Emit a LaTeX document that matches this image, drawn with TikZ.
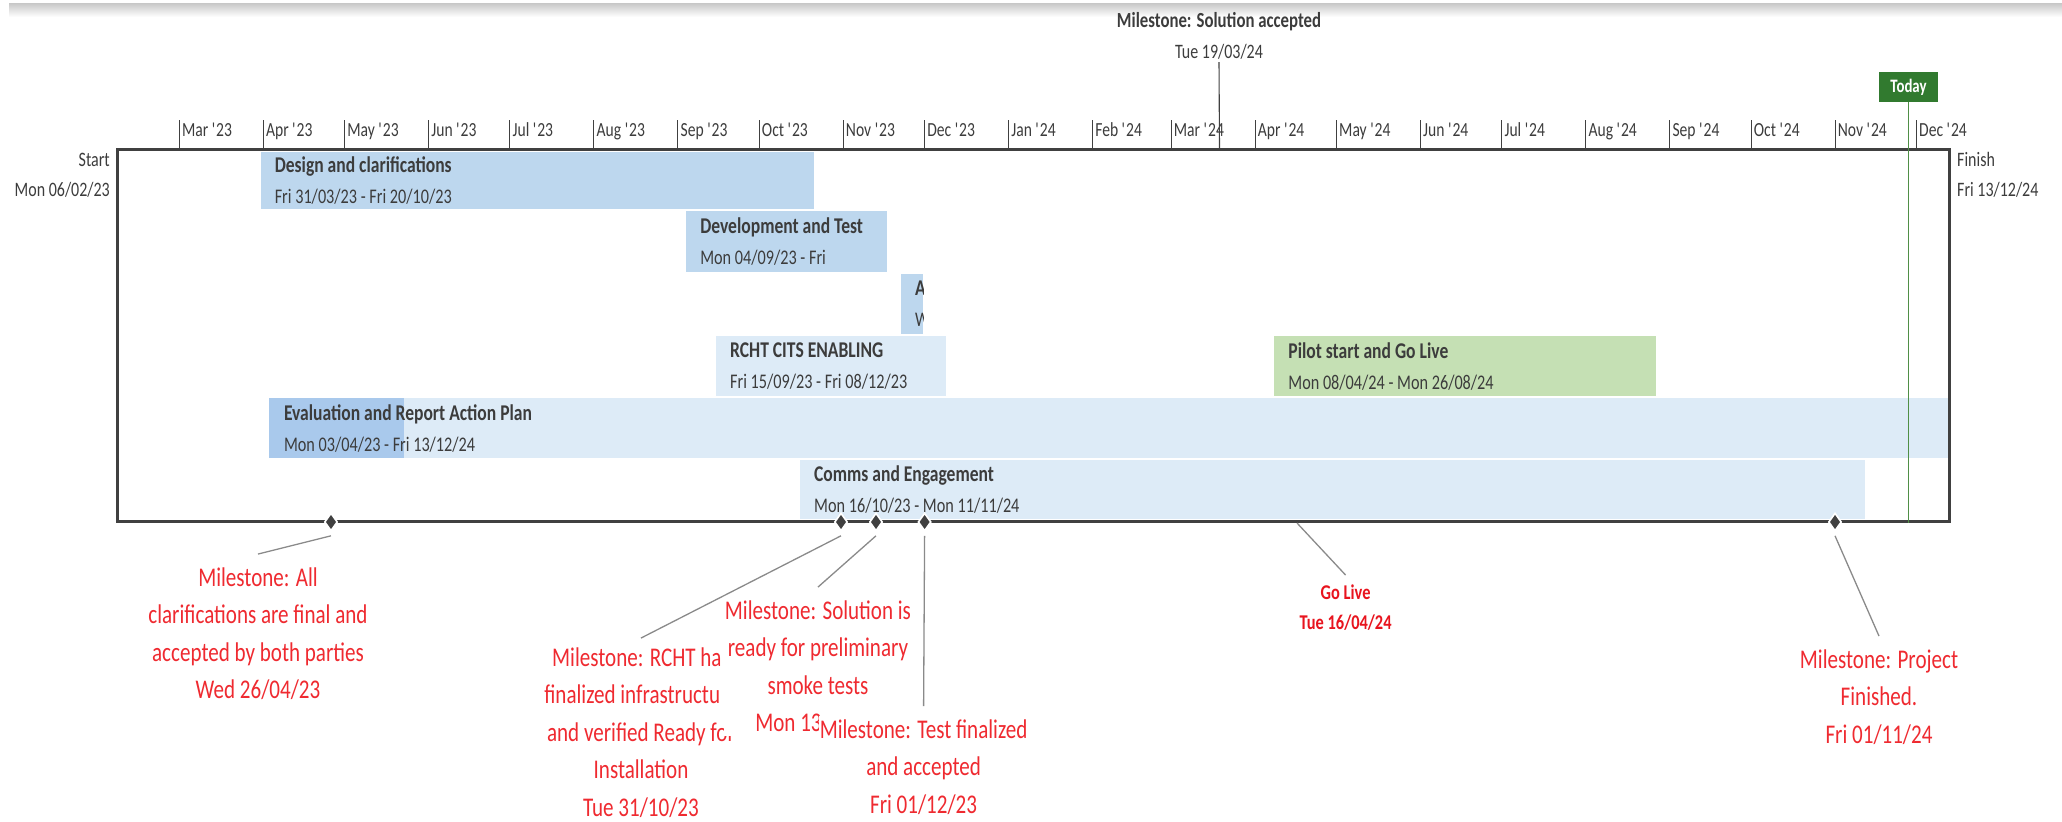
\documentclass[tikz,border=0pt]{standalone}
\usepackage{fontspec}
\setmainfont[FakeStretch=0.78]{Carlito}
\usetikzlibrary{positioning,shapes.geometric}

\definecolor{frame-gray}{HTML}{404040}
\definecolor{text-gray}{HTML}{3C3C3C}
\definecolor{bar-blue}{HTML}{BDD7EE}
\definecolor{bar-light}{HTML}{DDEBF7}
\definecolor{bar-progress}{HTML}{A9C9EC}
\definecolor{bar-green}{HTML}{C5E0B4}
\definecolor{today-green}{HTML}{317A2F}
\definecolor{today-line}{HTML}{4F8F46}
\definecolor{callout-red}{HTML}{EF2A30}
\definecolor{golive-red}{HTML}{E8141E}
\definecolor{leader-gray}{HTML}{8A8A8A}

\newcommand{\tasktitle}[1]{{\bfseries\fontsize{22.5}{31}\selectfont #1}}

\tikzset{
    task-bar/.style = {rectangle, anchor=north west, inner sep=0pt},
    task-label/.style = {inner sep=0pt, align=left, text=text-gray, font=\fontsize{20.8}{31}\selectfont},
    month-tick/.style = {draw=frame-gray, line width=1pt},
    month-label/.style = {inner sep=0pt, anchor=base west, text=text-gray, font=\fontsize{20}{24}\selectfont},
    side-label/.style = {inner sep=0pt, text=text-gray, font=\fontsize{20.5}{30}\selectfont},
    milestone/.style = {diamond, fill=frame-gray, draw=white, line width=1.6pt, minimum width=13pt, minimum height=18pt, inner sep=0pt},
    callout/.style = {anchor=base, align=center, fill=white, inner xsep=1pt, inner ysep=3pt, text=callout-red, font=\fontsize{27}{37.5}\selectfont},
    leader/.style = {draw=leader-gray, line width=1.3pt},
}

\begin{document}
\begin{tikzpicture}[x=1pt, y=-1pt]
\useasboundingbox (0,0) rectangle (2062,822);
% window edge
\shade[top color=black!22, bottom color=white] (9,3) rectangle (2062,17);

% task bars
\node[task-bar, fill=bar-blue, minimum width=552.8pt, minimum height=57pt] (design) at (260.6,152) {};
\node[task-label, right=14pt] (design-text) at (design.west) {\tasktitle{Design and clarifications}\\Fri 31/03/23 - Fri 20/10/23};

\node[task-bar, fill=bar-blue, minimum width=201pt, minimum height=61pt] (devtest) at (686.1,211) {};
\node[task-label, right=14pt] (devtest-text) at (devtest.west) {\tasktitle{Development and Test}\\Mon 04/09/23 - Fri};

\node[task-bar, fill=bar-blue, minimum width=22pt, minimum height=60pt] (short-task) at (901,274) {};
\begin{scope}
  \clip (short-task.north west) rectangle (short-task.south east);
  \node[task-label, right=14pt] (short-task-text) at (short-task.west) {\tasktitle{A}\\W};
\end{scope}

\node[task-bar, fill=bar-light, minimum width=230pt, minimum height=60pt] (enabling) at (716,336) {};
\node[task-label, right=14pt] (enabling-text) at (enabling.west) {\tasktitle{RCHT CITS ENABLING}\\Fri 15/09/23 - Fri 08/12/23};

\node[task-bar, fill=bar-green, minimum width=382pt, minimum height=60pt] (pilot) at (1274.2,336) {};
\node[task-label, right=14pt] (pilot-text) at (pilot.west) {\tasktitle{Pilot start and Go Live}\\Mon 08/04/24 - Mon 26/08/24};

\node[task-bar, fill=bar-light, minimum width=1680.2pt, minimum height=60pt,
  path picture={\fill[bar-progress] (path picture bounding box.north west) rectangle ([xshift=134.8pt]path picture bounding box.south west);}] (evaluation) at (268.8,398) {};
\node[task-label, right=15pt] (evaluation-text) at (evaluation.west) {\tasktitle{Evaluation and Report Action Plan}\\Mon 03/04/23 - Fri 13/12/24};

\node[task-bar, fill=bar-light, minimum width=1065pt, minimum height=59pt] (comms) at (800,460) {};
\node[task-label, right=14pt] (comms-text) at (comms.west) {\tasktitle{Comms and Engagement}\\Mon 16/10/23 - Mon 11/11/24};

% timeline frame
\draw[frame-gray, line width=3pt] (117,149) rectangle (1949,521);

% month scale
\foreach \d/\mon/\yr in {23/Mar/23, 54/Apr/23, 84/May/23, 115/Jun/23, 145/Jul/23, 176/Aug/23,
    207/Sep/23, 237/Oct/23, 268/Nov/23, 298/Dec/23, 329/Jan/24, 360/Feb/24, 389/Mar/24,
    420/Apr/24, 450/May/24, 481/Jun/24, 511/Jul/24, 542/Aug/24, 573/Sep/24, 603/Oct/24,
    634/Nov/24, 664/Dec/24} {
  \draw[month-tick] ({117+2.71*\d},120) -- ({117+2.71*\d},149);
  \node[month-label] (month-\d) at ({119.5+2.71*\d},136) {\mon\ \textquotesingle\yr};
}

% base anchor sits on the last line
\node[side-label, anchor=base east, align=right] (start-label) at (110,196) {Start\\Mon 06/02/23};
\node[side-label, anchor=base west, align=left] (finish-label) at (1957,196) {Finish\\Fri 13/12/24};

% today marker
\node[fill=today-green, text=white, font=\bfseries\fontsize{19}{19}\selectfont, minimum width=59pt, minimum height=30pt, inner sep=0pt] (today) at (1908.5,87) {Today};
\coordinate (today-end) at (1908.5,523);
\draw[today-line, line width=1.3pt] (today.south) -- (today-end);

% milestone above the scale
\node[anchor=base, align=center, inner sep=3pt, text=text-gray, font=\fontsize{20.5}{31}\selectfont] (accepted) at (1219,58) {\textbf{\fontsize{21.5}{31}\selectfont Milestone: Solution accepted}\\Tue 19/03/24};
\coordinate (accepted-pin) at (1219.5,149);
\draw[frame-gray, line width=1.1pt] (accepted.south) -- (accepted-pin);

% milestones on the bottom line
\node[milestone] (ms-all) at (331,522) {};
\node[milestone] (ms-rcht) at (841,522) {};
\node[milestone] (ms-smoke) at (876,522) {};
\node[milestone] (ms-test) at (924.6,522) {};
\node[milestone] (ms-finish) at (1835,522) {};
\coordinate (golive-pin) at (1297,523);

% callouts
\node[callout] (lbl-all) at (258,698.5) {Milestone: All\\clarifications are final and\\accepted by both parties\\Wed 26/04/23};
\draw[leader] ([yshift=-4pt]ms-all.south) -- ([yshift=10pt]lbl-all.north);

\node[callout] (lbl-rcht) at (641,816) {Milestone: RCHT ha\phantom{s}\\finalized infrastructu\phantom{re}\\and verified Ready for\\Installation\\Tue 31/10/23};
\draw[leader] ([yshift=-4pt]ms-rcht.south) -- ([yshift=6pt]lbl-rcht.north);

\node[callout] (lbl-smoke) at (818,731.5) {Milestone: Solution is\\ready for preliminary\\smoke tests\\Mon 13\phantom{/11/23}};
\draw[leader] ([yshift=-4pt]ms-smoke.south) -- ([yshift=10pt]lbl-smoke.north);

\node[callout] (lbl-test) at (923.6,813) {Milestone: Test finalized\\and accepted\\Fri 01/12/23};
\draw[leader] ([yshift=-4pt]ms-test.south) -- ([yshift=10pt]lbl-test.north);

\node[callout, text=golive-red, font=\bfseries\fontsize{21}{30}\selectfont] (lbl-golive) at (1345.6,629) {Go Live\\Tue 16/04/24};
\draw[leader] (golive-pin) -- ([yshift=6pt]lbl-golive.north);

\node[callout] (lbl-finish) at (1879,743) {Milestone: Project\\Finished.\\Fri 01/11/24};
\draw[leader] ([yshift=-4pt]ms-finish.south) -- ([yshift=10pt]lbl-finish.north);
\end{tikzpicture}
\end{document}
